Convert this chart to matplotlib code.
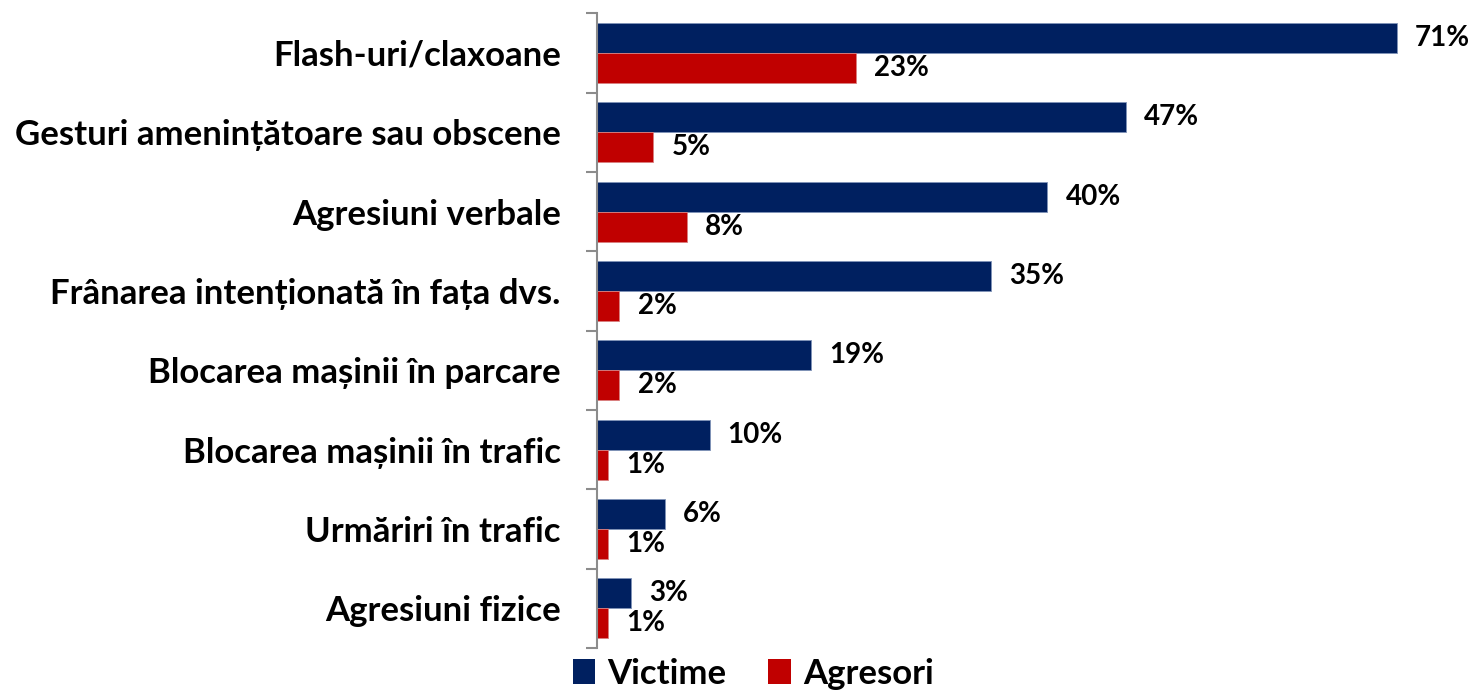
import numpy as np
import matplotlib
matplotlib.use("Agg")
import matplotlib.pyplot as plt
from matplotlib.patches import Patch

plt.rcParams["font.family"] = ["Lato", "DejaVu Sans"]
plt.rcParams["font.weight"] = "bold"

categories = [
    "Flash-uri/claxoane",
    "Gesturi amenințătoare sau obscene",
    "Agresiuni verbale",
    "Frânarea intenționată în fața dvs.",
    "Blocarea mașinii în parcare",
    "Blocarea mașinii în trafic",
    "Urmăriri în trafic",
    "Agresiuni fizice",
]
victime = [71, 47, 40, 35, 19, 10, 6, 3]
agresori = [23, 5, 8, 2, 2, 1, 1, 1]
series_names = ["Victime", "Agresori"]

NAVY = "#002060"
RED = "#C00000"

fig = plt.figure(figsize=(14.74, 6.98), dpi=100)
ax = fig.add_axes([0.405, 0.0716, 0.573, 0.9095])

n = len(categories)
y = np.arange(n)
h = 0.378

ax.barh(y - h / 2, victime, height=h, color=NAVY, edgecolor="#8093b8", linewidth=0.6)
ax.barh(y + h / 2, agresori, height=h, color=RED, edgecolor="#d98080", linewidth=0.6)

for i in range(n):
    ax.text(victime[i] + 1.6, y[i] - h / 2, f"{victime[i]}%", va="center", ha="left",
            fontsize=20, fontweight="bold", color="black")
    ax.text(agresori[i] + 1.6, y[i] + h / 2, f"{agresori[i]}%", va="center", ha="left",
            fontsize=20, fontweight="bold", color="black")

ax.set_xlim(0, 75)
ax.set_ylim(n - 0.5, -0.5)

# category labels, tick marks at the boundaries
ax.set_yticks(y)
ax.set_yticklabels(categories, fontsize=25, fontweight="bold")
ax.tick_params(axis="y", which="major", length=0, pad=26)
ax.set_yticks(np.arange(n + 1) - 0.5, minor=True)
ax.tick_params(axis="y", which="minor", length=8, width=1.5, color="#8c8c8c", direction="out")

ax.set_xticks([])
for side in ["top", "right", "bottom"]:
    ax.spines[side].set_visible(False)
ax.spines["left"].set_color("#8c8c8c")
ax.spines["left"].set_linewidth(1.5)

handles = [Patch(facecolor=NAVY), Patch(facecolor=RED)]
fig.legend(handles, series_names, loc="lower center", bbox_to_anchor=(0.511, -0.033), ncol=2,
           frameon=False, prop={"weight": "bold", "size": 25},
           handlelength=0.65, handleheight=0.75, handletextpad=0.35, columnspacing=1.2)

plt.savefig("out.png", dpi=100)
